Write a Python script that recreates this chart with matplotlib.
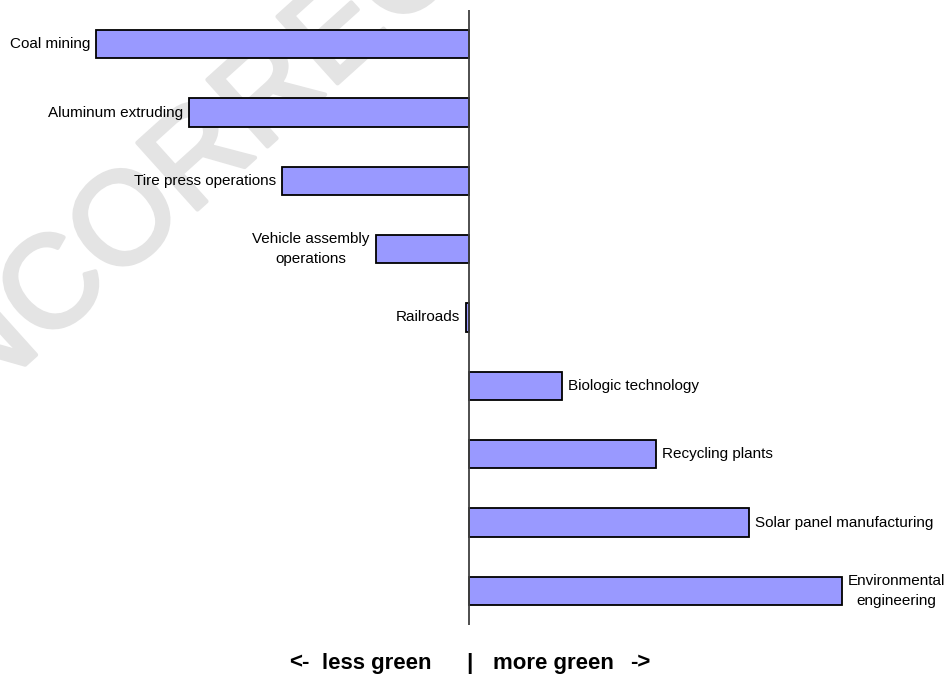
import matplotlib
matplotlib.use("Agg")
import matplotlib.pyplot as plt
import matplotlib.patheffects as pe

categories = ["Coal mining", "Aluminum extruding", "Tire press operations",
              "Vehicle assembly\noperations", "Railroads", "Biologic technology",
              "Recycling plants", "Solar panel manufacturing", "Environmental\nengineering"]
values = [-4.0, -3.0, -2.0, -1.0, -0.03, 1.0, 2.0, 3.0, 4.0]

plt.rcParams['font.family'] = ['Liberation Sans', 'DejaVu Sans']

W, H = 949, 675
fig = plt.figure(figsize=(W / 100, H / 100), dpi=100)
fig.patch.set_facecolor('white')

# watermark (behind everything)
fig.text(212 / W, 1 - 150 / H, "INCORRECT", fontsize=94, fontweight='normal',
         color='#e4e4e4', rotation=42, ha='center', va='center', zorder=0,
         path_effects=[pe.withStroke(linewidth=3, foreground='#e4e4e4')])

ax = fig.add_axes([0, 1 - 625 / H, 1, 615 / H])
ax.set_zorder(2)
ax.patch.set_alpha(0)
ax.set_xlim(-469 / 93.25, 480 / 93.25)
ax.set_ylim(len(categories) - 0.5, -0.5)

ypos = list(range(len(categories)))
ax.barh(ypos, values, height=0.41, color='#9999FF', edgecolor='black',
        linewidth=1.3, zorder=2)
ax.axvline(0, color='#404040', linewidth=1.3, zorder=3)

off = 6 / 93.25
for y, v, lab in zip(ypos, values, categories):
    if v < 0:
        ax.text(v - off, y, lab, ha='right', va='center', fontsize=11,
                multialignment='center', linespacing=1.6)
    else:
        ax.text(v + off, y, lab, ha='left', va='center', fontsize=11,
                multialignment='center', linespacing=1.6)

for s in ax.spines.values():
    s.set_visible(False)
ax.set_xticks([])
ax.set_yticks([])

ybot = 1 - 663 / H
fig.text(310 / W, ybot, "<-", ha='right', va='center', fontsize=16, fontweight='bold', zorder=3)
fig.text(432 / W, ybot, "less green", ha='right', va='center', fontsize=16, fontweight='bold', zorder=3)
fig.text(469 / W, ybot, "|", ha='center', va='center', fontsize=16, fontweight='bold', zorder=3)
fig.text(493 / W, ybot, "more green", ha='left', va='center', fontsize=16, fontweight='bold', zorder=3)
fig.text(630 / W, ybot, "->", ha='left', va='center', fontsize=16, fontweight='bold', zorder=3)

fig.savefig("out.png", dpi=100)
